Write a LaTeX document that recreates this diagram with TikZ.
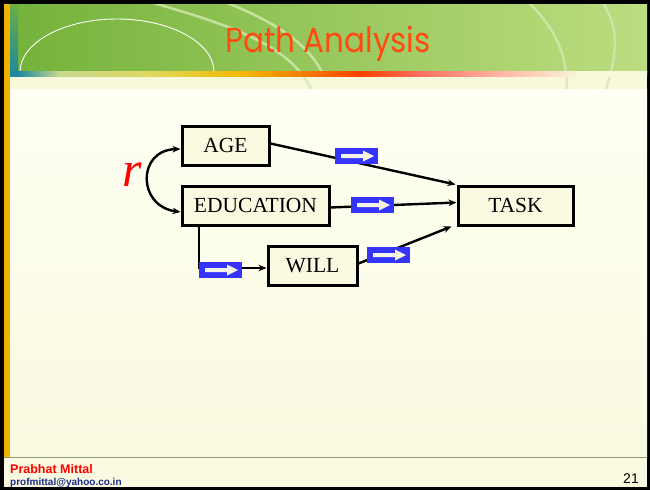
\documentclass[tikz,border=0pt]{standalone}
\usepackage{fontspec}
\setmainfont{Liberation Serif}
\newfontfamily\titlefont{Poppins}
\newfontfamily\footfont{Liberation Sans}
\usetikzlibrary{arrows.meta,calc}
\definecolor{cream}{HTML}{FAFAE0}
\definecolor{creamtop}{HTML}{FFFFF4}
\definecolor{creamband}{HTML}{F8F8DA}
\definecolor{greenL}{HTML}{74B23A}
\definecolor{greenR}{HTML}{BCDD80}
\definecolor{arcgreen}{HTML}{D4E9B0}
\definecolor{tealc}{HTML}{1C88A0}
\definecolor{goldc}{HTML}{F0B400}
\definecolor{titleorange}{HTML}{FF4A10}
\definecolor{bluebox}{HTML}{3434FA}
\definecolor{arrowwhite}{HTML}{F4F4E4}
\definecolor{footline}{HTML}{8C9C74}
\definecolor{footblue}{HTML}{1A2A8A}
\definecolor{ol1}{HTML}{C8D890}
\definecolor{ol2}{HTML}{E0D860}
\definecolor{ol3}{HTML}{F4B800}
\definecolor{ol4}{HTML}{F48000}
\definecolor{ol5}{HTML}{FF4000}
\definecolor{ol6}{HTML}{FF7060}
\definecolor{ol7}{HTML}{FFB4A4}
\pgfdeclarehorizontalshading{orangeline}{100bp}{color(0bp)=(tealc); color(25bp)=(tealc); color(28.3bp)=(ol1); color(35.5bp)=(ol2); color(42.6bp)=(ol3); color(47.4bp)=(ol4); color(52.2bp)=(ol5); color(57bp)=(ol6); color(63.3bp)=(ol7); color(69.7bp)=(creamband); color(100bp)=(creamband)}
\tikzset{
  boxnode/.style={draw=black, line width=3pt, fill=cream, inner sep=0pt, minimum height=39pt, font=\fontsize{21.5}{25}\selectfont},
  link/.style={line width=2.4pt, -{Stealth[length=8pt,width=6.5pt]}},
  deco/.style={arcgreen, line width=2.5pt, opacity=0.8},
}
\newcommand{\bluearrow}[2]{%
  \fill[bluebox] (#1,#2) rectangle ++(43,16);
  \fill[arrowwhite] (#1+6,#2+6) -- ++(22,0) -- ++(0,-3.5) -- ++(11,5.5) -- ++(-11,5.5) -- ++(0,-3.5) -- ++(-22,0) -- cycle;
}
\begin{document}
\begin{tikzpicture}[x=1pt,y=-1pt]
\useasboundingbox (0,0) rectangle (650,490);
% frame and background
\fill[black] (0,0) rectangle (650,490);
\shade[top color=creamtop, bottom color=cream] (4,89) rectangle (647,457);
\fill[cream] (4,457) rectangle (647,487);
\fill[creamband] (8,76) rectangle (647,89);
% title band
\shade[left color=greenL, right color=greenR] (8,4) rectangle (647,72);
\shade[top color=greenL!90!tealc, bottom color=tealc] (8,4) rectangle (18,76);
\fill[goldc] (4,4) rectangle (10,457);
% decorative arcs
\begin{scope}
\clip (18,4) rectangle (647,89);
\draw[white, line width=0.9pt] (20,72) arc[start angle=180, end angle=360, x radius=97, y radius=53];
\draw[deco] (150,2) .. controls (230,25) and (290,45) .. (311,89);
\draw[deco] (225,2) .. controls (270,20) and (305,40) .. (322,72);
\draw[deco] (528,2) .. controls (552,25) and (567,50) .. (567,89);
\draw[deco] (602,2) .. controls (622,30) and (615,60) .. (606,89);
\end{scope}
\fill[shading=orangeline] (18,71) rectangle (647,76);
% title
\node[text=titleorange, font=\titlefont\fontsize{31}{36}\selectfont, anchor=base, yscale=1.12] (title) at (328,52) {Path Analysis};
% footer
\draw[footline, line width=1.5pt] (4,457.5) -- (647,457.5);
\node[anchor=base west, inner sep=0pt, text=red, font=\footfont\bfseries\fontsize{12.5}{14}\selectfont] (author) at (10,473) {Prabhat Mittal};
\node[anchor=base west, inner sep=0pt, text=footblue, font=\footfont\bfseries\fontsize{10}{12}\selectfont] (email) at (10,485) {profmittal@yahoo.co.in};
\node[anchor=base east, inner sep=0pt, text=black, font=\footfont\fontsize{14}{16}\selectfont] (page) at (639,483) {21};
% boxes
\node[boxnode, minimum width=87pt] (AGE) at (225.5,145.5) {AGE};
\node[boxnode, minimum width=147pt] (EDU) at (255.5,205.5) {EDUCATION};
\node[boxnode, minimum width=89pt] (WILL) at (312.5,265.5) {WILL};
\node[boxnode, minimum width=115pt] (TASK) at (515.5,205.5) {TASK};
% connectors
\draw[link] ($(AGE.east)+(0,-2)$) -- ($(TASK.north west)+(-1,0)$);
\draw[link] ($(EDU.east)+(0,2)$) -- ($(TASK.west)+(0,-3)$);
\draw[link] ($(WILL.east)+(0,-2)$) -- ($(TASK.south west)+(-5,0)$);
\draw[link] (EDU.south -| 199,0) -- (199,268) -- (WILL.west |- 0,268);
\coordinate (rA) at ($(AGE.west)+(0,3.5)$);
\coordinate (rE) at ($(EDU.west)+(0,6.5)$);
\draw[line width=2.4pt, {Stealth[length=8pt,width=6.5pt]}-{Stealth[length=8pt,width=6.5pt]}] (rA) .. controls (137,150) and (137,206) .. (rE);
\node[text=red, font=\fontsize{50}{54}\selectfont\itshape] (r) at (132,175) {r};
% blue markers
\bluearrow{335}{148}
\bluearrow{351}{197}
\bluearrow{199}{262}
\bluearrow{367}{247}
\end{tikzpicture}
\end{document}
